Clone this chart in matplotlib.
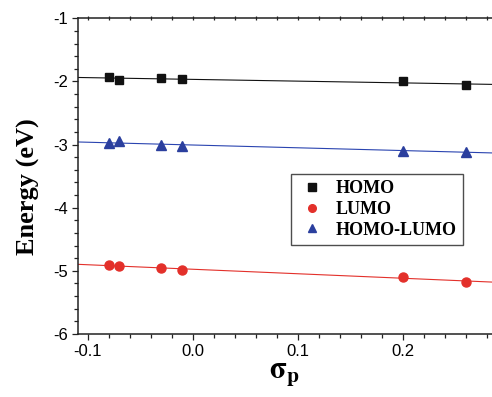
import numpy as np
import matplotlib
matplotlib.use("Agg")
import matplotlib.pyplot as plt
from matplotlib.ticker import MultipleLocator

sigma_p = [-0.08, -0.07, -0.03, -0.01, 0.20, 0.26]
homo = [-1.93, -1.98, -1.95, -1.96, -2.00, -2.06]
lumo = [-4.91, -4.92, -4.95, -4.99, -5.10, -5.17]
homo_lumo = [-2.97, -2.94, -3.01, -3.03, -3.10, -3.11]
series_names = ["HOMO", "LUMO", "HOMO-LUMO"]

plt.rcParams['mathtext.fontset'] = 'stix'
fig = plt.figure(figsize=(4.92, 3.97), dpi=100)
ax = fig.add_axes([78/492, 1-334/397, 1-78/492, (334-18.3)/397])

xlim = (-0.1095, 0.2848)
xx = np.array(xlim)
specs = [
    (homo, 's', '#111111', '#111111', 5.8),
    (lumo, 'o', '#e3302a', '#e3302a', 6.5),
    (homo_lumo, '^', '#2b3f9e', '#2a44b0', 7.0),
]
handles = []
for (vals, mk, mc, lc, ms), name in zip(specs, series_names):
    k, b = np.polyfit(sigma_p, vals, 1)
    ax.plot(xx, k*xx + b, color=lc, lw=0.8, zorder=2)
    h, = ax.plot(sigma_p, vals, linestyle='none', marker=mk, color=mc,
                 markersize=ms, zorder=3, label=name)
    handles.append(h)

ax.set_xlim(*xlim)
ax.set_ylim(-6, -1)
ax.xaxis.set_major_locator(MultipleLocator(0.1))
ax.xaxis.set_minor_locator(MultipleLocator(0.02))
ax.yaxis.set_major_locator(MultipleLocator(1))
ax.yaxis.set_minor_locator(MultipleLocator(0.2))
ax.set_xticks([-0.1, 0.0, 0.1, 0.2])
ax.set_xticklabels(['-0.1', '0.0', '0.1', '0.2'])
ax.set_yticks([-6, -5, -4, -3, -2, -1])
ax.set_yticklabels(['-6', '-5', '-4', '-3', '-2', '-1'])

for s in ['left', 'bottom', 'top']:
    ax.spines[s].set_linewidth(1.1)
    ax.spines[s].set_color('#222222')
ax.spines['right'].set_visible(False)

ax.tick_params(which='major', direction='out', length=4, width=0.9,
               labelsize=12, color='#222222', pad=3)
ax.tick_params(which='minor', direction='out', length=2.8, width=0.9, color='#222222')
# tiny marks on the top spine
sec = ax.secondary_xaxis('top')
sec.xaxis.set_major_locator(MultipleLocator(0.02))
sec.tick_params(which='both', direction='inout', length=2.5, width=0.9,
                labeltop=False, color='#222222')
sec.spines['top'].set_visible(False)
ax.tick_params(axis='x', which='both', top=False)
for lab in ax.get_xticklabels() + ax.get_yticklabels():
    lab.set_fontfamily('Liberation Sans')

ax.set_ylabel('Energy (eV)', fontfamily='Liberation Serif', fontweight='bold',
              fontsize=19)
ax.yaxis.set_label_coords(-0.092, 0.467)
ax.set_xlabel(r'$\mathbf{\sigma_p}$', fontsize=22, labelpad=1)

leg = ax.legend(handles=handles, loc='upper left',
                bbox_to_anchor=(291/492, 1-174/397), bbox_transform=fig.transFigure,
                borderaxespad=0, frameon=True, fancybox=False, handlelength=1.6,
                handletextpad=0.5, borderpad=0.35, labelspacing=0.2,
                prop={'family': 'Liberation Serif', 'weight': 'bold', 'size': 13})
leg.get_frame().set_edgecolor('#222222')
leg.get_frame().set_linewidth(1.0)
for h in leg.legend_handles:
    h.set_markersize(5.5)

fig.savefig('out.png', dpi=100)
